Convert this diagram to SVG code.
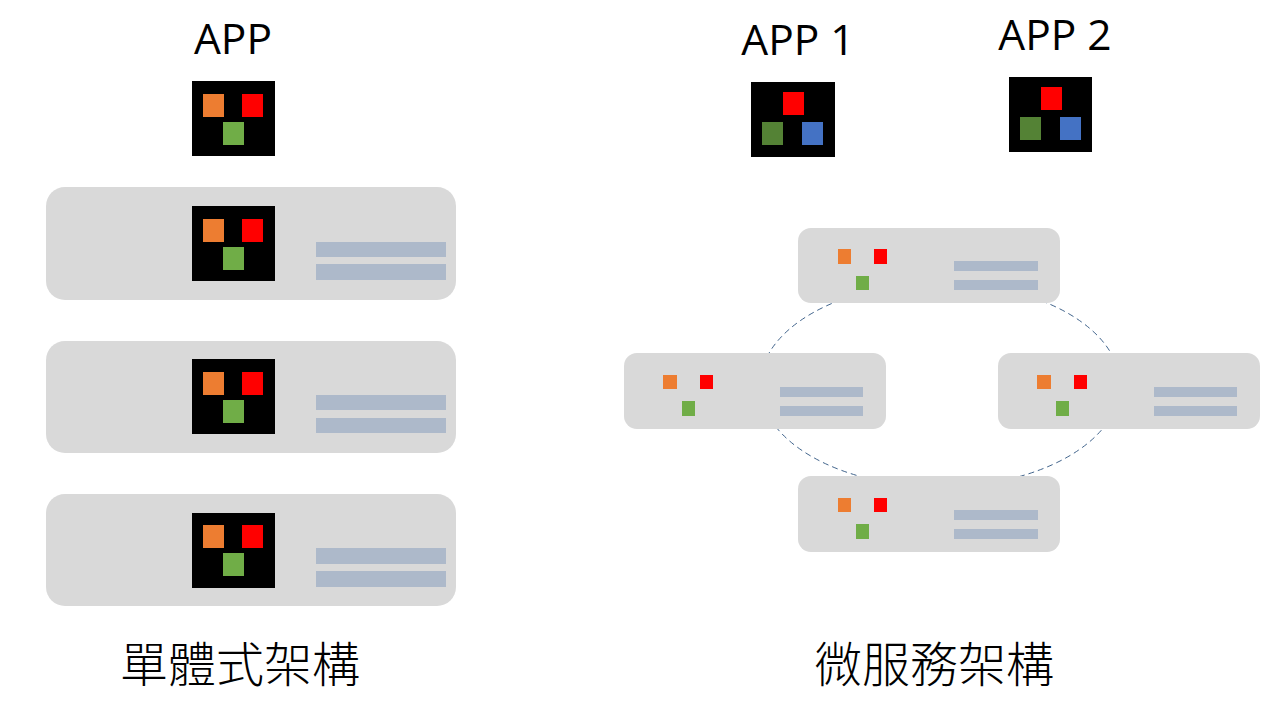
<svg xmlns="http://www.w3.org/2000/svg" width="1280" height="720" viewBox="0 0 1280 720">
<style>
.srv{fill:#d9d9d9}
.bar{fill:#adb9ca}
.blk{fill:#000}
.o{fill:#ed7d31}
.r{fill:#f00}
.g{fill:#70ad47}
.dg{fill:#548235}
.b{fill:#4472c4}
text{fill:#000;font-family:"Open Sans","Noto Sans CJK TC",sans-serif}
.t1{font-size:42.5px;text-anchor:middle}
.t2{font-size:48px;text-anchor:middle;font-family:"Noto Sans CJK TC",sans-serif;font-weight:300}
</style>
<rect width="1280" height="720" fill="#fff"/>
<g id="connectors">
<ellipse cx="940" cy="385" rx="180" ry="102" fill="none" stroke="#41648c" stroke-width="1" stroke-dasharray="6 4"/>
</g>
<g id="app-mono">
<text class="t1" x="233" y="54">APP</text>
<rect class="blk" x="192" y="81" width="83" height="75"/>
<rect class="o" x="203" y="94" width="21" height="23"/><rect class="r" x="242" y="94" width="21" height="23"/><rect class="g" x="223" y="122" width="21" height="23"/>
</g>
<g id="server-1">
<rect class="srv" x="46" y="187" width="410" height="113" rx="19"/>
<rect class="blk" x="192" y="206" width="83" height="75"/>
<rect class="o" x="203" y="219" width="21" height="23"/><rect class="r" x="242" y="219" width="21" height="23"/><rect class="g" x="223" y="247" width="21" height="23"/>
<rect class="bar" x="316" y="242" width="130" height="15"/><rect class="bar" x="316" y="264" width="130" height="16"/>
</g>
<g id="server-2">
<rect class="srv" x="46" y="341" width="410" height="112" rx="19"/>
<rect class="blk" x="192" y="359" width="83" height="75"/>
<rect class="o" x="203" y="372" width="21" height="23"/><rect class="r" x="242" y="372" width="21" height="23"/><rect class="g" x="223" y="400" width="21" height="23"/>
<rect class="bar" x="316" y="395" width="130" height="15"/><rect class="bar" x="316" y="418" width="130" height="15"/>
</g>
<g id="server-3">
<rect class="srv" x="46" y="494" width="410" height="112" rx="19"/>
<rect class="blk" x="192" y="513" width="83" height="75"/>
<rect class="o" x="203" y="525" width="21" height="23"/><rect class="r" x="242" y="525" width="21" height="23"/><rect class="g" x="223" y="553" width="21" height="23"/>
<rect class="bar" x="316" y="548" width="130" height="16"/><rect class="bar" x="316" y="571" width="130" height="16"/>
</g>
<g id="app-1">
<text class="t1" x="798" y="55">APP 1</text>
<rect class="blk" x="751" y="82" width="84" height="75"/>
<rect class="r" x="783" y="92" width="21" height="23"/><rect class="dg" x="762" y="122" width="21" height="23"/><rect class="b" x="802" y="122" width="21" height="23"/>
</g>
<g id="app-2">
<text class="t1" x="1055" y="50">APP 2</text>
<rect class="blk" x="1009" y="77" width="83" height="75"/>
<rect class="r" x="1041" y="87" width="21" height="23"/><rect class="dg" x="1020" y="117" width="21" height="23"/><rect class="b" x="1060" y="117" width="21" height="23"/>
</g>
<g id="micro-top">
<rect class="srv" x="798" y="228" width="262" height="75" rx="13"/>
<rect class="o" x="838" y="249" width="13" height="15"/><rect class="r" x="874" y="249" width="13" height="15"/><rect class="g" x="856" y="276" width="13" height="14"/>
<rect class="bar" x="954" y="261" width="84" height="10"/><rect class="bar" x="954" y="280" width="84" height="10"/>
</g>
<g id="micro-left">
<rect class="srv" x="624" y="353" width="262" height="76" rx="13"/>
<rect class="o" x="663" y="375" width="14" height="14"/><rect class="r" x="700" y="375" width="13" height="14"/><rect class="g" x="682" y="401" width="13" height="15"/>
<rect class="bar" x="780" y="387" width="83" height="10"/><rect class="bar" x="780" y="406" width="83" height="10"/>
</g>
<g id="micro-right">
<rect class="srv" x="998" y="353" width="262" height="76" rx="13"/>
<rect class="o" x="1037" y="375" width="14" height="14"/><rect class="r" x="1074" y="375" width="13" height="14"/><rect class="g" x="1056" y="401" width="13" height="15"/>
<rect class="bar" x="1154" y="387" width="83" height="10"/><rect class="bar" x="1154" y="406" width="83" height="10"/>
</g>
<g id="micro-bottom">
<rect class="srv" x="798" y="476" width="262" height="76" rx="13"/>
<rect class="o" x="838" y="498" width="13" height="14"/><rect class="r" x="874" y="498" width="13" height="14"/><rect class="g" x="856" y="524" width="13" height="15"/>
<rect class="bar" x="954" y="510" width="84" height="10"/><rect class="bar" x="954" y="529" width="84" height="10"/>
</g>
<g id="captions">
<text class="t2" x="240" y="682">單體式架構</text>
<text class="t2" x="934" y="682">微服務架構</text>
</g>
</svg>
